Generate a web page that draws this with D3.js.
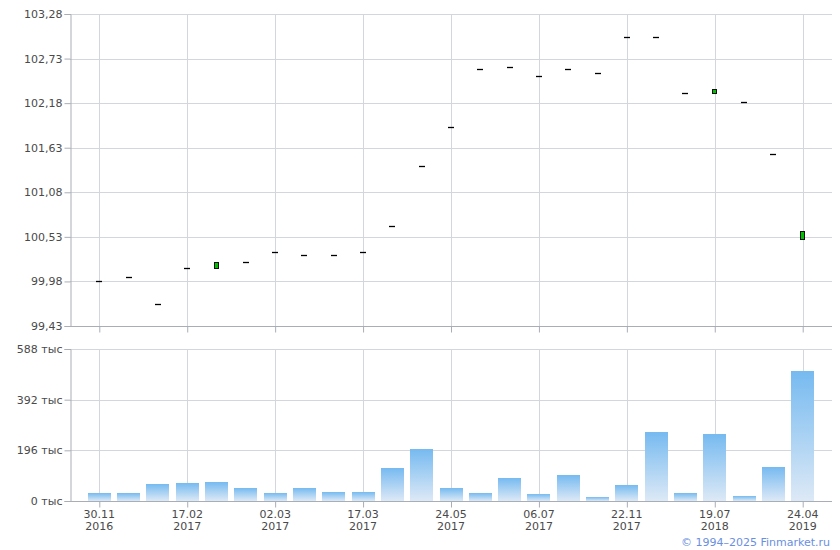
<!DOCTYPE html>
<html><head><meta charset="utf-8">
<script src="https://cdn.jsdelivr.net/npm/d3@7/dist/d3.min.js"></script>
<style>
body{margin:0;background:#fff;}
text{font-family:"DejaVu Sans",Verdana,sans-serif;}
</style></head>
<body><svg id="c" width="840" height="550"></svg>
<script>
// category index (only every third date is labelled on the axis)
const categories = d3.range(25);
const tickIndex = [0, 3, 6, 9, 12, 15, 18, 21, 24];
const tickDays = ["30.11", "17.02", "02.03", "17.03", "24.05", "06.07", "22.11", "19.07", "24.04"];
const tickYears = ["2016", "2017", "2017", "2017", "2017", "2017", "2017", "2018", "2019"];
// open / close prices
const openP  = [99.99,100.04,99.70,100.15,100.15,100.22,100.34,100.30,100.31,100.34,100.67,101.40,101.89,102.60,102.63,102.52,102.60,102.55,103.00,103.00,102.30,102.30,102.20,101.55,100.50];
const closeP = [99.99,100.04,99.70,100.15,100.22,100.22,100.34,100.30,100.31,100.34,100.67,101.40,101.89,102.60,102.63,102.52,102.60,102.55,103.00,103.00,102.30,102.36,102.20,101.55,100.60];
// volumes, thousands
const volume = [31,31,66,70,73,50,31,50,35,35,128,201,50,31,89,27,100,15,62,267,31,259,19,131,503];
const priceTicks = [99.43, 99.98, 100.53, 101.08, 101.63, 102.18, 102.73, 103.28];
const volTicks = [0, 196, 392, 588];

const svg = d3.select("#c");
const L = 70, R = 832;
const x = d3.scalePoint().domain(categories).range([L, R]).padding(1);
const yP = d3.scaleLinear().domain([99.43, 103.28]).range([326, 14]);
const yV = d3.scaleLinear().domain([0, 588]).range([501, 349]);

const gridC = "#d3d7dc", axisC = "#a9adb5", txtC = "#4a4a4a";

const defs = svg.append("defs");
const gr = defs.append("linearGradient").attr("id","bg").attr("x1",0).attr("x2",0).attr("y1",0).attr("y2",1);
gr.append("stop").attr("offset","0%").attr("stop-color","#76baf0");
gr.append("stop").attr("offset","100%").attr("stop-color","#dde9f6");

function panel(y, ticks, fmt, top, bottom) {
  const g = svg.append("g");
  // horizontal grid
  g.selectAll(".hg").data(ticks).join("line")
    .attr("x1", L).attr("x2", R).attr("y1", d => Math.round(y(d))+0.5).attr("y2", d => Math.round(y(d))+0.5)
    .attr("stroke", gridC);
  // vertical grid
  g.selectAll(".vg").data(tickIndex).join("line")
    .attr("x1", d => Math.round(x(d))+0.5).attr("x2", d => Math.round(x(d))+0.5)
    .attr("y1", top).attr("y2", bottom).attr("stroke", gridC);
  // y axis
  const ya = d3.axisLeft(y).tickValues(ticks).tickFormat(fmt).tickSize(6).tickPadding(2);
  const yg = svg.append("g").attr("transform", `translate(${L+0.5},0)`).call(ya);
  yg.select(".domain").attr("stroke", axisC);
  yg.selectAll(".tick line").attr("stroke", axisC);
  yg.selectAll(".tick text").attr("fill", txtC).style("font-size","11px").style("font-family","DejaVu Sans, Verdana, sans-serif");
  // x axis
  const xa = d3.axisBottom(x).tickValues(tickIndex).tickFormat("").tickSize(6).tickSizeOuter(0);
  const xg = svg.append("g").attr("transform", `translate(0,${bottom+0.5})`).call(xa);
  xg.select(".domain").attr("stroke", axisC).attr("d", `M${L},0H${R}`);
  xg.selectAll(".tick line").attr("stroke", axisC);
  return g;
}

panel(yP, priceTicks, d => d3.format(".2f")(d).replace(".", ","), 14, 326);
panel(yV, volTicks, d => d + " тыс", 349, 501);

// price marks
const pg = svg.append("g");
categories.forEach(i => {
  const o = openP[i], c = closeP[i];
  const cx = Math.round(x(i));
  if (Math.abs(o - c) < 0.005) {
    pg.append("line").attr("x1", cx-3).attr("x2", cx+3)
      .attr("y1", Math.round(yP(o))+0.5).attr("y2", Math.round(yP(o))+0.5)
      .attr("stroke", "#000").attr("stroke-width", 1.3);
  } else {
    const t = Math.round(yP(Math.max(o,c))), b = Math.round(yP(Math.min(o,c)));
    pg.append("rect").attr("x", cx-2.5).attr("y", t+0.5).attr("width", 4).attr("height", Math.max(b-t,4))
      .attr("fill", c > o ? "#00c000" : "#e00000").attr("stroke", "#111").attr("stroke-width", 1);
  }
});

// volume bars
const bw = 23;
svg.append("g").selectAll("rect").data(categories).join("rect")
  .attr("x", i => Math.round(x(i) - bw/2))
  .attr("y", i => Math.round(yV(volume[i])))
  .attr("width", bw)
  .attr("height", i => 501 - Math.round(yV(volume[i])))
  .attr("fill", "url(#bg)");

// x labels
const lab = svg.append("g").attr("fill", txtC).style("font-size","11px").attr("text-anchor","middle");
tickIndex.forEach((idx, k) => {
  lab.append("text").attr("x", x(idx)).attr("y", 518).text(tickDays[k]);
  lab.append("text").attr("x", x(idx)).attr("y", 530).text(tickYears[k]);
});

svg.append("text").attr("x", 830).attr("y", 546).attr("text-anchor","end")
  .attr("fill", "#6b8fe0").style("font-size","11px").text("© 1994–2025 Finmarket.ru");
</script></body></html>
